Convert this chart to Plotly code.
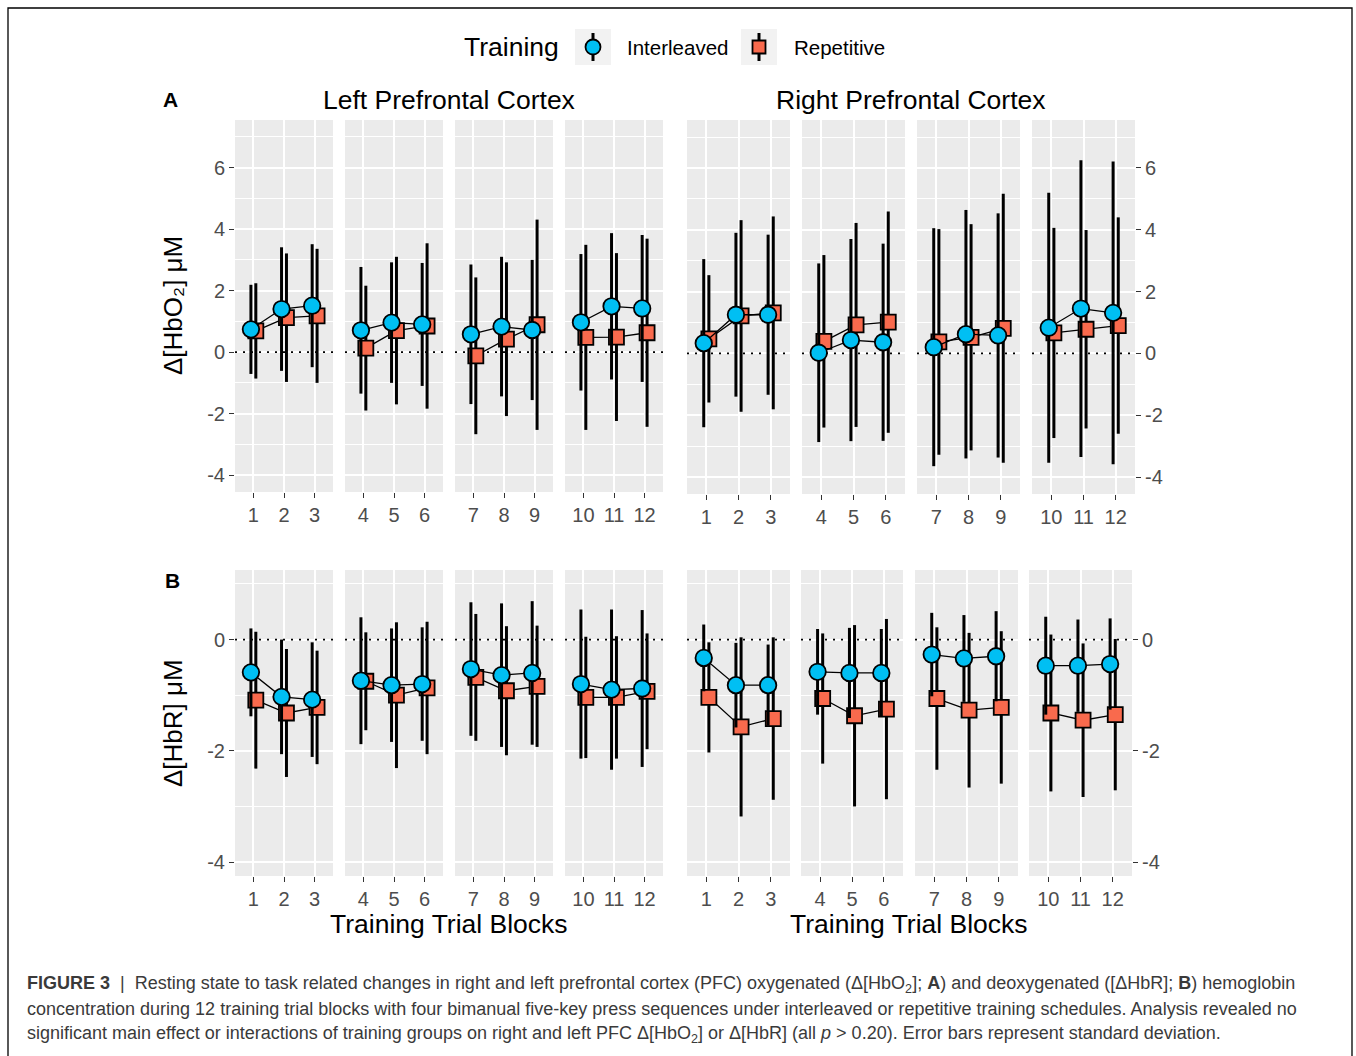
import plotly.graph_objects as go

# ---------------- data ----------------
blocks = list(range(1, 13))
tick_labels = [str(b) for b in blocks]
groups = ["Interleaved", "Repetitive"]

# Δ[HbO2] (µM), left PFC
hbo2_left_int_mean = [0.74, 1.40, 1.51, 0.71, 0.96, 0.90, 0.58, 0.83, 0.72, 0.97, 1.49, 1.42]
hbo2_left_int_sd = [1.45, 2.01, 2.00, 2.06, 1.96, 2.00, 2.27, 2.27, 2.28, 2.22, 2.38, 2.39]
hbo2_left_rep_mean = [0.69, 1.12, 1.18, 0.13, 0.70, 0.85, -0.12, 0.42, 0.89, 0.48, 0.49, 0.63]
hbo2_left_rep_sd = [1.55, 2.09, 2.18, 2.03, 2.40, 2.69, 2.55, 2.50, 3.42, 3.01, 2.73, 3.06]

# Δ[HbO2] (µM), right PFC
hbo2_right_int_mean = [0.33, 1.25, 1.25, 0.02, 0.43, 0.36, 0.20, 0.62, 0.58, 0.83, 1.45, 1.31]
hbo2_right_int_sd = [2.72, 2.65, 2.59, 2.89, 3.27, 3.19, 3.85, 4.02, 3.95, 4.37, 4.80, 4.90]
hbo2_right_rep_mean = [0.47, 1.21, 1.31, 0.39, 0.92, 1.01, 0.37, 0.52, 0.81, 0.66, 0.78, 0.90]
hbo2_right_rep_sd = [2.06, 3.10, 3.12, 2.79, 3.30, 3.58, 3.65, 3.66, 4.35, 3.40, 3.21, 3.50]

# Δ[HbR] (µM), left PFC
hbr_left_int_mean = [-0.59, -1.03, -1.08, -0.74, -0.82, -0.80, -0.53, -0.64, -0.60, -0.80, -0.90, -0.88]
hbr_left_int_sd = [0.79, 1.03, 1.03, 1.14, 1.02, 1.02, 1.20, 1.29, 1.29, 1.34, 1.44, 1.41]
hbr_left_rep_mean = [-1.09, -1.32, -1.22, -0.75, -1.00, -0.87, -0.68, -0.92, -0.84, -1.04, -1.04, -0.93]
hbr_left_rep_sd = [1.23, 1.15, 1.02, 0.88, 1.31, 1.19, 1.14, 1.16, 1.09, 1.09, 1.10, 1.04]

# Δ[HbR] (µM), right PFC
hbr_right_int_mean = [-0.33, -0.82, -0.82, -0.58, -0.60, -0.60, -0.27, -0.34, -0.30, -0.47, -0.47, -0.44]
hbr_right_int_sd = [0.60, 0.76, 0.73, 0.77, 0.81, 0.79, 0.75, 0.78, 0.81, 0.88, 0.83, 0.82]
hbr_right_rep_mean = [-1.04, -1.57, -1.42, -1.06, -1.37, -1.25, -1.06, -1.27, -1.22, -1.32, -1.45, -1.35]
hbr_right_rep_sd = [0.99, 1.61, 1.46, 1.17, 1.63, 1.62, 1.28, 1.39, 1.37, 1.41, 1.38, 1.36]

# ---------------- style / layout ----------------
W, H = 1356, 1056
FONT = "Liberation Sans, Arial, sans-serif"
BLUE = "#00BFF3"
RED = "#F96A4D"
PANEL_BG = "#EBEBEB"
TICK_COL = "#4D4D4D"
DODGE = 0.08
EXPAND = 0.6


def px_x(x):
    return x / W


def px_y(y):
    return 1 - y / H


panels = [
    dict(side="L", ytop=120, ybot=492, yrange=[-4.55, 7.55],
         major=[-4, -2, 0, 2, 4, 6], minor=[-3, -1, 1, 3, 5, 7],
         xs=[(235, 333), (345, 443), (455, 553), (565, 663)],
         data=(hbo2_left_int_mean, hbo2_left_int_sd, hbo2_left_rep_mean, hbo2_left_rep_sd)),
    dict(side="R", ytop=120, ybot=494, yrange=[-4.55, 7.55],
         major=[-4, -2, 0, 2, 4, 6], minor=[-3, -1, 1, 3, 5, 7],
         xs=[(687, 790), (802, 905), (917, 1020), (1032, 1135)],
         data=(hbo2_right_int_mean, hbo2_right_int_sd, hbo2_right_rep_mean, hbo2_right_rep_sd)),
    dict(side="L", ytop=570, ybot=876, yrange=[-4.25, 1.25],
         major=[-4, -2, 0], minor=[-3, -1, 1],
         xs=[(235, 333), (345, 443), (455, 553), (565, 663)],
         data=(hbr_left_int_mean, hbr_left_int_sd, hbr_left_rep_mean, hbr_left_rep_sd)),
    dict(side="R", ytop=570, ybot=876, yrange=[-4.25, 1.25],
         major=[-4, -2, 0], minor=[-3, -1, 1],
         xs=[(687, 790), (801, 903), (915, 1018), (1029, 1132)],
         data=(hbr_right_int_mean, hbr_right_int_sd, hbr_right_rep_mean, hbr_right_rep_sd)),
]

fig = go.Figure()
layout = {}
shapes = []
n = 0
for p in panels:
    im, isd, rm, rsd = p["data"]
    for k, (x0, x1) in enumerate(p["xs"]):
        n += 1
        sfx = "" if n == 1 else str(n)
        idx = list(range(3 * k, 3 * k + 3))
        bl = [blocks[i] for i in idx]
        xr = [bl[0] - EXPAND, bl[-1] + EXPAND]
        # dotted zero reference line, beneath the data marks
        fig.add_trace(go.Scatter(
            x=xr, y=[0, 0], mode="lines", hoverinfo="skip", showlegend=False,
            line=dict(color="black", width=1.8, dash="2px,6px"),
            xaxis="x" + sfx, yaxis="y" + sfx,
        ))
        # Repetitive first, then Interleaved on top
        for g, mean, sd, col, sym, size, off in [
            ("Repetitive", rm, rsd, RED, "square", 15, DODGE),
            ("Interleaved", im, isd, BLUE, "circle", 16.5, -DODGE),
        ]:
            fig.add_trace(go.Scatter(
                x=[blocks[i] + off for i in idx],
                y=[mean[i] for i in idx],
                error_y=dict(type="data", array=[sd[i] for i in idx], symmetric=True,
                             thickness=3, width=0, color="black"),
                mode="lines+markers",
                line=dict(color="black", width=1.3),
                marker=dict(symbol=sym, size=size, color=col, line=dict(color="black", width=1.8)),
                name=g, showlegend=False,
                xaxis="x" + sfx, yaxis="y" + sfx,
            ))
        show_left = p["side"] == "L" and k == 0
        show_right = p["side"] == "R" and k == 3
        layout["xaxis" + sfx] = dict(
            domain=[px_x(x0), px_x(x1)], anchor="y" + sfx,
            range=xr,
            tickvals=bl, ticktext=[tick_labels[i] for i in idx],
            ticks="outside", ticklen=5, tickwidth=1.2, tickcolor="#333333",
            tickfont=dict(family=FONT, size=20, color=TICK_COL),
            showgrid=True, gridcolor="white", gridwidth=1.6,
            zeroline=False, showline=False, fixedrange=True,
        )
        ya = dict(
            domain=[px_y(p["ybot"]), px_y(p["ytop"])], anchor="x" + sfx,
            range=p["yrange"], tickvals=p["major"],
            ticktext=[str(v) if v >= 0 else "-" + str(-v) for v in p["major"]],
            showgrid=True, gridcolor="white", gridwidth=1.6,
            minor=dict(tickvals=p["minor"], showgrid=True, gridcolor="white", gridwidth=0.8, ticks=""),
            zeroline=False, showline=False, fixedrange=True,
            tickfont=dict(family=FONT, size=20, color=TICK_COL),
        )
        if show_left:
            ya.update(ticks="outside", ticklen=5, tickwidth=1.2, tickcolor="#333333", showticklabels=True)
        elif show_right:
            ya.update(side="right", ticks="outside", ticklen=5, tickwidth=1.2, tickcolor="#333333",
                      showticklabels=True)
        else:
            ya.update(ticks="", showticklabels=False)
        layout["yaxis" + sfx] = ya


# legend (manual keys)
def key(xc, yc, kind, col):
    shapes.append(dict(type="rect", xref="paper", yref="paper",
                       x0=px_x(xc - 18), x1=px_x(xc + 18), y0=px_y(yc + 18), y1=px_y(yc - 18),
                       fillcolor="#F2F2F2", line=dict(width=0), layer="above"))
    shapes.append(dict(type="line", xref="paper", yref="paper",
                       x0=px_x(xc), x1=px_x(xc), y0=px_y(yc + 14), y1=px_y(yc - 14),
                       line=dict(color="black", width=3), layer="above"))
    r = 7.5 if kind == "circle" else 6.5
    shapes.append(dict(type=kind, xref="paper", yref="paper",
                       x0=px_x(xc - r), x1=px_x(xc + r), y0=px_y(yc + r), y1=px_y(yc - r),
                       fillcolor=col, line=dict(color="black", width=1.8), layer="above"))


key(593, 47, "circle", BLUE)
key(759, 47, "rect", RED)

# figure border
shapes.append(dict(type="rect", xref="paper", yref="paper",
                   x0=px_x(8), x1=px_x(1352), y0=px_y(1070), y1=px_y(8),
                   line=dict(color="black", width=1.3), fillcolor="rgba(0,0,0,0)", layer="above"))

annotations = []


def text(x, y, s, size, xanchor="center", color="black", angle=0, yanchor="middle"):
    annotations.append(dict(x=px_x(x), y=px_y(y), xref="paper", yref="paper", text=s,
                            showarrow=False, xanchor=xanchor, yanchor=yanchor, textangle=angle,
                            font=dict(family=FONT, size=size, color=color)))


text(561, 47, "Training", 26.5, xanchor="right")
text(625, 47, groups[0], 20.5, xanchor="left")
text(792, 47, groups[1], 20.5, xanchor="left")
text(170, 99, "<b>A</b>", 21)
text(172, 580, "<b>B</b>", 21)
text(449, 100, "Left Prefrontal Cortex", 26.5)
text(911, 100, "Right Prefrontal Cortex", 26.5)
text(173, 306, "Δ[HbO₂] μM", 26, angle=-90)
text(173, 723, "Δ[HbR] μM", 26, angle=-90)
text(449, 924, "Training Trial Blocks", 26.5)
text(909, 924, "Training Trial Blocks", 26.5)

CAP = "#3A3A3A"
cap_lines = [
    "<b>FIGURE 3</b>  |  Resting state to task related changes in right and left prefrontal cortex (PFC) "
    "oxygenated (Δ[HbO<sub>2</sub>]; <b>A</b>) and deoxygenated ([ΔHbR]; <b>B</b>) hemoglobin",
    "concentration during 12 training trial blocks with four bimanual five-key press sequences under "
    "interleaved or repetitive training schedules. Analysis revealed no",
    "significant main effect or interactions of training groups on right and left PFC Δ[HbO<sub>2</sub>] "
    "or Δ[HbR] (all <i>p</i> > 0.20). Error bars represent standard deviation.",
]
for i, line in enumerate(cap_lines):
    text(25, 984 + 25 * i, line, 18, xanchor="left", color=CAP)

fig.update_layout(
    width=W, height=H, margin=dict(l=0, r=0, t=0, b=0),
    paper_bgcolor="white", plot_bgcolor=PANEL_BG,
    showlegend=False, shapes=shapes, annotations=annotations,
    font=dict(family=FONT),
    **layout,
)
fig.write_html("out.html", config={"displayModeBar": False},
               post_script="document.body.style.margin='0px';document.body.style.overflow='hidden';")
